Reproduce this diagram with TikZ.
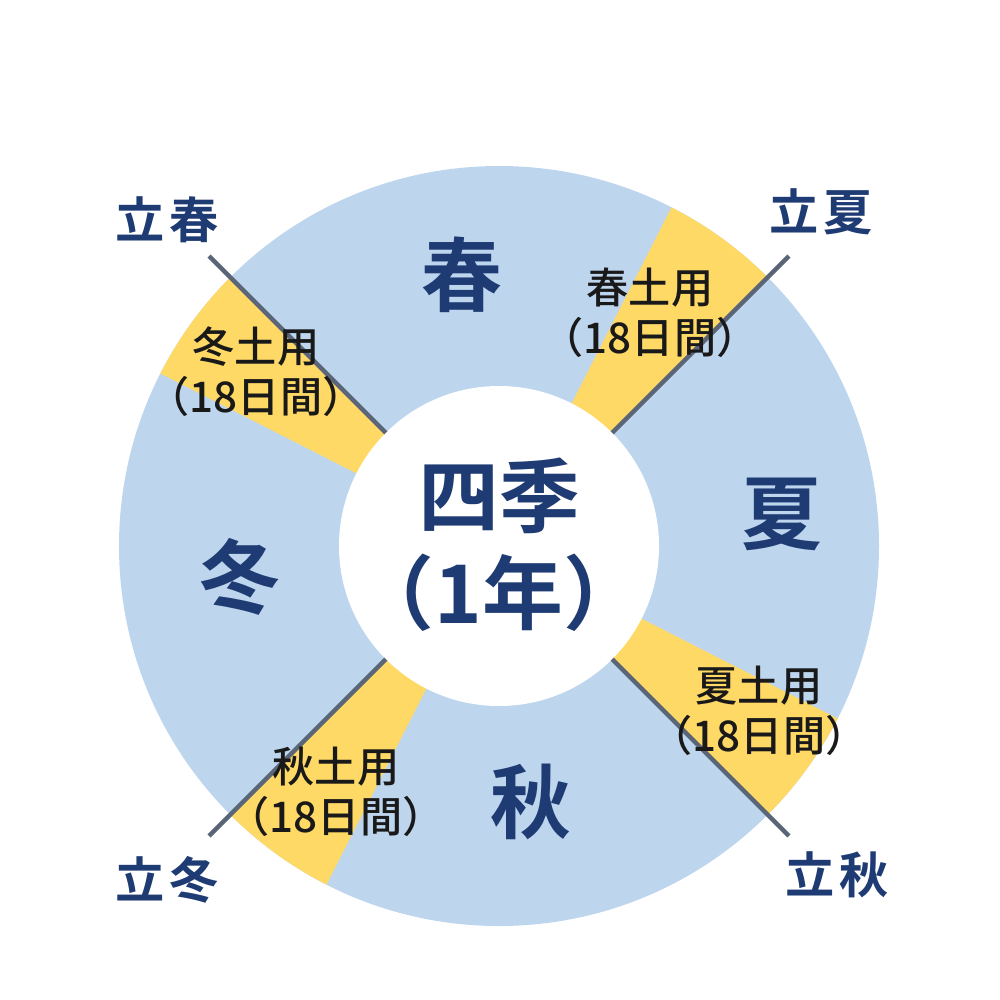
\documentclass[tikz,border=0pt]{standalone}
\usepackage{fontspec}
\usepackage{xcolor}
\usepackage{tikz}
\newfontfamily\jp{Noto Sans CJK JP Bold}
\newfontfamily\jpmed{Noto Sans CJK JP Medium}
\newfontfamily\jpwide{Noto Sans CJK JP Bold}[LetterSpace=10]
\definecolor{seasonblue}{HTML}{BDD6EE}
\definecolor{doyoyellow}{HTML}{FFD966}
\definecolor{navy}{HTML}{1F3B73}
\definecolor{borderline}{HTML}{5A6678}

\begin{document}
\begin{tikzpicture}[
  season/.style={font=\jp\fontsize{23}{27.5}\selectfont, text=navy},
  doyo/.style={align=center, font=\jpmed\fontsize{12}{14.2}\selectfont, text=black!90},
  risshun/.style={font=\jpwide\fontsize{14}{16}\selectfont, text=navy},
  divider/.style={draw=borderline, line width=1.3pt}
]
  \useasboundingbox (-4.99,-4.53) rectangle (5.01,5.46);

  % ring, 18-degree doyo wedges, hole
  \fill[seasonblue] (0,0) circle[radius=3.8];
  \foreach \a in {45,135,225,315}
    \fill[doyoyellow] (0,0) -- (\a:3.8) arc[start angle=\a, end angle=\a+18, radius=3.8] -- cycle;
  \fill[white] (0,0) circle[radius=1.6];
  \foreach \a in {45,135,225,315}
    \draw[divider] (\a:1.6) -- (\a:4.1);

  \node[season, align=center] (year) at (0,0.01) {四季\\（1年）};

  \node[season] (spring) at (-0.37,2.71) {春};
  \node[season] (summer) at (2.83,0.32) {夏};
  \node[season] (autumn) at (0.32,-2.56) {秋};
  \node[season] (winter) at (-2.59,-0.31) {冬};

  \node[doyo] (doyospring) at (1.51,2.33) {春土用\\（18日間）};
  \node[doyo] (doyowinter) at (-2.43,1.74) {冬土用\\（18日間）};
  \node[doyo] (doyosummer) at (2.60,-1.65) {夏土用\\（18日間）};
  \node[doyo] (doyoautumn) at (-1.63,-2.46) {秋土用\\（18日間）};

  \node[risshun] (lspring) at (-3.32,3.26) {立春};
  \node[risshun] (lsummer) at (3.22,3.34) {立夏};
  \node[risshun] (lautumn) at (3.38,-3.29) {立秋};
  \node[risshun] (lwinter) at (-3.32,-3.34) {立冬};
\end{tikzpicture}
\end{document}
